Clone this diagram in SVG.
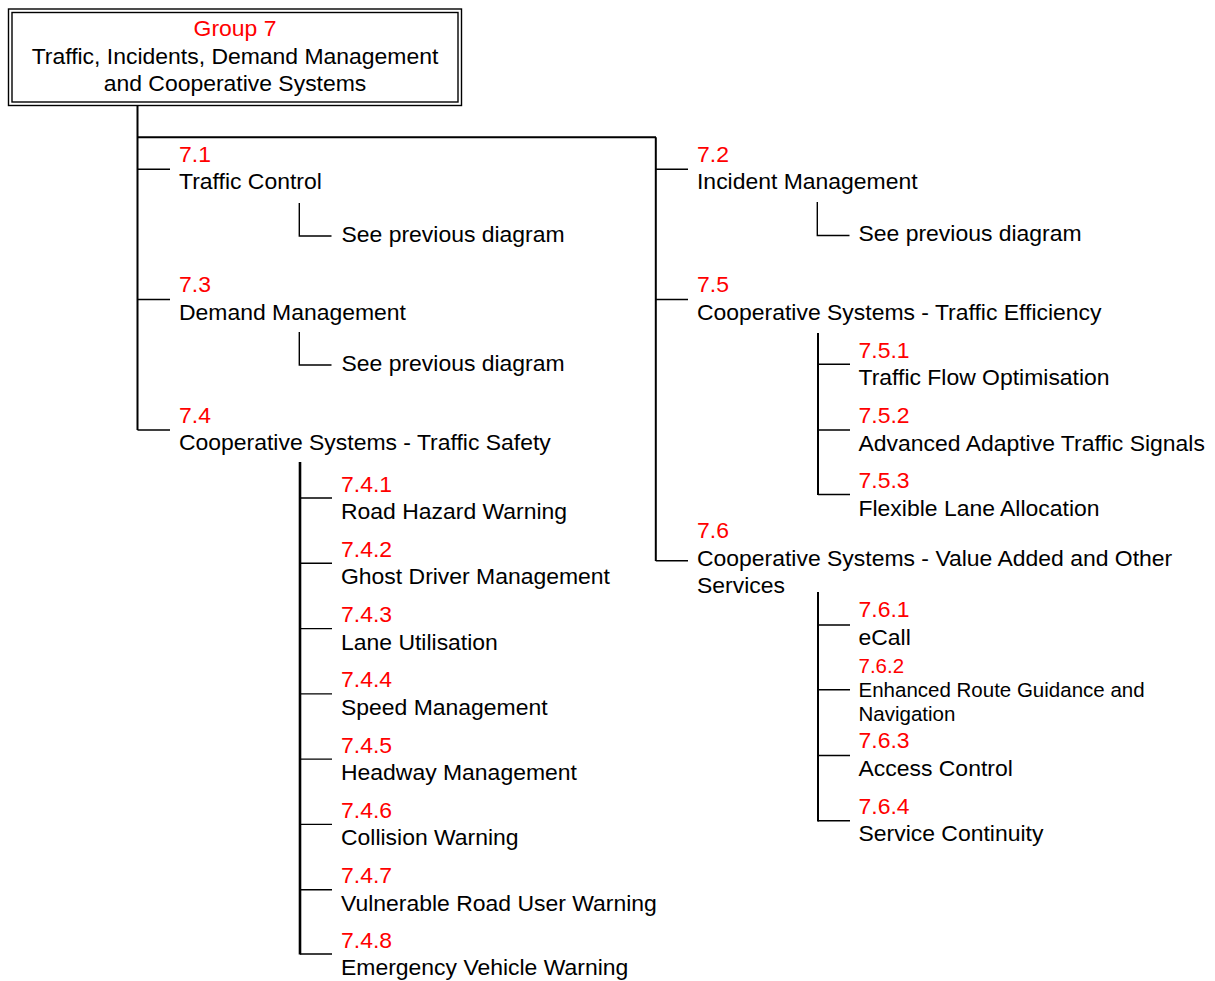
<svg xmlns="http://www.w3.org/2000/svg" width="1215" height="981" viewBox="0 0 1215 981">
<style>
text{font-family:"Liberation Sans",Arial,sans-serif;font-size:22.95px;fill:#000}
.r{fill:#ff0000}
.s{font-size:20.5px}
.c{text-anchor:middle}
.ln{stroke:#000;stroke-width:1.4;fill:none}
.tk{stroke:#000;stroke-width:2;fill:none}
.tk2{stroke:#000;stroke-width:2.6;fill:none}
</style>
<rect width="1215" height="981" fill="#fff"/>
<g id="connectors">
<path class="tk" d="M137.5 106V430M137.5 137.3H656M655.8 137.3V561"/>
<path class="ln" d="M137.5 169.3H170M137.5 299.5H170M137.5 430H170"/>
<path class="ln" d="M655.8 169.3H688M655.8 299.5H688M655.8 560.7H688"/>
<path class="ln" d="M299.3 203V236H331.5M299.3 332V365H331.5"/>
<path class="ln" d="M817.3 202V235.5H849.5"/>
<path class="tk2" d="M300 462V954.5"/>
<path class="ln" d="M300 498H332M300 563.3H332M300 628.6H332M300 693.9H332M300 759.1H332M300 824.4H332M300 889.7H332M300 954H332"/>
<path class="tk" d="M818 333V495"/>
<path class="ln" d="M818 364.3H850M818 430H850M818 494.5H850"/>
<path class="tk" d="M818 592V821.5"/>
<path class="ln" d="M818 625H850M818 689.7H850M818 755.5H850M818 820.7H850"/>
</g>
<g id="group7">
<rect x="8.5" y="9" width="453" height="96.5" fill="none" stroke="#000" stroke-width="1.4"/>
<rect x="12" y="12.5" width="446" height="89.5" fill="none" stroke="#000" stroke-width="1.4"/>
<text class="c r" x="235" y="35.5">Group 7</text>
<text class="c" x="235" y="63.5">Traffic, Incidents, Demand Management</text>
<text class="c" x="235" y="90.5">and Cooperative Systems</text>
</g>
<g id="n7-1"><text class="r" x="179" y="162">7.1</text><text x="179" y="189">Traffic Control</text></g>
<g id="n7-1-see"><text x="341.5" y="241.5">See previous diagram</text></g>
<g id="n7-3"><text class="r" x="179" y="292">7.3</text><text x="179" y="319.5">Demand Management</text></g>
<g id="n7-3-see"><text x="341.5" y="371">See previous diagram</text></g>
<g id="n7-4"><text class="r" x="179" y="422.5">7.4</text><text x="179" y="450">Cooperative Systems - Traffic Safety</text></g>
<g id="n7-4-1"><text class="r" x="341" y="491.5">7.4.1</text><text x="341" y="519">Road Hazard Warning</text></g>
<g id="n7-4-2"><text class="r" x="341" y="556.8">7.4.2</text><text x="341" y="584.3">Ghost Driver Management</text></g>
<g id="n7-4-3"><text class="r" x="341" y="622.1">7.4.3</text><text x="341" y="649.6">Lane Utilisation</text></g>
<g id="n7-4-4"><text class="r" x="341" y="687.4">7.4.4</text><text x="341" y="714.9">Speed Management</text></g>
<g id="n7-4-5"><text class="r" x="341" y="752.6">7.4.5</text><text x="341" y="780.1">Headway Management</text></g>
<g id="n7-4-6"><text class="r" x="341" y="817.9">7.4.6</text><text x="341" y="845.4">Collision Warning</text></g>
<g id="n7-4-7"><text class="r" x="341" y="883.2">7.4.7</text><text x="341" y="910.7">Vulnerable Road User Warning</text></g>
<g id="n7-4-8"><text class="r" x="341" y="947.5">7.4.8</text><text x="341" y="975">Emergency Vehicle Warning</text></g>
<g id="n7-2"><text class="r" x="697" y="162">7.2</text><text x="697" y="189">Incident Management</text></g>
<g id="n7-2-see"><text x="858.5" y="241">See previous diagram</text></g>
<g id="n7-5"><text class="r" x="697" y="292">7.5</text><text x="697" y="319.5">Cooperative Systems - Traffic Efficiency</text></g>
<g id="n7-5-1"><text class="r" x="858.5" y="357.5">7.5.1</text><text x="858.5" y="385">Traffic Flow Optimisation</text></g>
<g id="n7-5-2"><text class="r" x="858.5" y="423">7.5.2</text><text x="858.5" y="450.5">Advanced Adaptive Traffic Signals</text></g>
<g id="n7-5-3"><text class="r" x="858.5" y="488">7.5.3</text><text x="858.5" y="515.5">Flexible Lane Allocation</text></g>
<g id="n7-6"><text class="r" x="697" y="538">7.6</text><text x="697" y="565.5">Cooperative Systems - Value Added and Other</text><text x="697" y="592.5">Services</text></g>
<g id="n7-6-1"><text class="r" x="858.5" y="617">7.6.1</text><text x="858.5" y="645">eCall</text></g>
<g id="n7-6-2"><text class="r s" x="858.5" y="672.5">7.6.2</text><text class="s" x="858.5" y="696.5">Enhanced Route Guidance and</text><text class="s" x="858.5" y="720.5">Navigation</text></g>
<g id="n7-6-3"><text class="r" x="858.5" y="748">7.6.3</text><text x="858.5" y="775.5">Access Control</text></g>
<g id="n7-6-4"><text class="r" x="858.5" y="813.5">7.6.4</text><text x="858.5" y="841">Service Continuity</text></g>
</svg>
